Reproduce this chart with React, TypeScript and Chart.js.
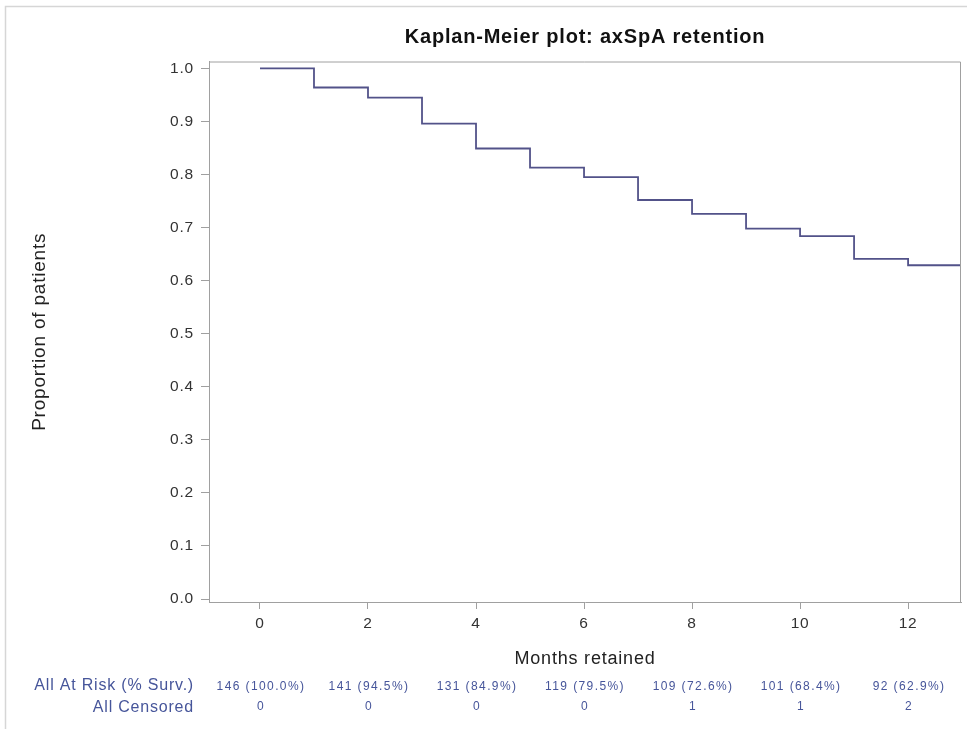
import React, { useEffect, useRef } from "react";
import { Chart, registerables } from "chart.js";

Chart.register(...registerables);

const TITLE = "Kaplan-Meier plot: axSpA retention";
const X_TITLE = "Months retained";
const Y_TITLE = "Proportion of patients";

// Kaplan-Meier step curve (value holds from each month onward)
const stepMonths = [0, 1, 2, 3, 4, 5, 6, 7, 8, 9, 10, 11, 12, 13];
const survival = [1.0, 0.964, 0.945, 0.896, 0.849, 0.813, 0.795, 0.752, 0.726, 0.698, 0.684, 0.641, 0.629, 0.629];

const xTickValues = [0, 2, 4, 6, 8, 10, 12];
const yTickValues = [0, 0.1, 0.2, 0.3, 0.4, 0.5, 0.6, 0.7, 0.8, 0.9, 1.0];

// Risk table
const riskRowLabels = ["All At Risk (% Surv.)", "All Censored"];
const riskMonths = [0, 2, 4, 6, 8, 10, 12];
const atRisk = [146, 141, 131, 119, 109, 101, 92];
const survPct = ["100.0", "94.5", "84.9", "79.5", "72.6", "68.4", "62.9"];
const censored = [0, 0, 0, 0, 1, 1, 2];

const FONT = '"Liberation Sans", Arial, sans-serif';
const LINE_COLOR = "#525289";
const RISK_COLOR = "#46559a";
const AXIS_COLOR = "#a0a0a0";

export default function App() {
  const ref = useRef<HTMLCanvasElement>(null);

  useEffect(() => {
    const canvas = ref.current;
    if (!canvas) return;

    const spacingPlugin = {
      id: "spacing",
      beforeLayout(c: any) {
        c.ctx.letterSpacing = "0.8px";
      },
      beforeDraw(c: any) {
        c.ctx.letterSpacing = "0.8px";
      },
    };

    const decorPlugin = {
      id: "decor",
      afterDraw(c: any) {
        const ctx = c.ctx as CanvasRenderingContext2D;
        const area = c.chartArea;
        const xs = c.scales.x;
        const ys = c.scales.y;
        ctx.save();
        // outer border
        ctx.strokeStyle = "#d6d6d6";
        ctx.lineWidth = 1.5;
        ctx.beginPath();
        ctx.moveTo(5.5, c.height);
        ctx.lineTo(5.5, 6.5);
        ctx.lineTo(c.width, 6.5);
        ctx.stroke();
        // plot frame (top & right)
        ctx.strokeStyle = AXIS_COLOR;
        ctx.lineWidth = 1;
        ctx.beginPath();
        ctx.moveTo(area.left, area.top + 0.5);
        ctx.lineTo(area.right - 0.5, area.top + 0.5);
        ctx.lineTo(area.right - 0.5, area.bottom);
        ctx.stroke();
        // risk table
        ctx.fillStyle = RISK_COLOR;
        ctx.textBaseline = "middle";
        (ctx as any).letterSpacing = "0.8px";
        ctx.font = `16px ${FONT}`;
        ctx.textAlign = "right";
        const labelX = ys.right - 15;
        ctx.fillText(riskRowLabels[0], labelX, 686);
        ctx.fillText(riskRowLabels[1], labelX, 708);
        ctx.font = `12px ${FONT}`;
        (ctx as any).letterSpacing = "1.4px";
        ctx.textAlign = "center";
        riskMonths.forEach((m, i) => {
          const x = xs.getPixelForValue(m) + 1;
          ctx.fillText(`${atRisk[i]} (${survPct[i]}%)`, x, 687);
          ctx.fillText(String(censored[i]), x, 707);
        });
        ctx.restore();
      },
    };

    const chart = new Chart(canvas, {
      type: "line",
      data: {
        datasets: [
          {
            label: "All",
            data: stepMonths.map((m, i) => ({ x: m, y: survival[i] })),
            stepped: true,
            borderColor: LINE_COLOR,
            borderWidth: 1.8,
            pointRadius: 0,
            fill: false,
          },
        ],
      },
      options: {
        responsive: false,
        animation: false,
        devicePixelRatio: 1,
        layout: { padding: { top: 0, left: 0, right: 6, bottom: 59 } },
        plugins: {
          legend: { display: false },
          tooltip: { enabled: false },
          title: {
            display: true,
            text: TITLE,
            fullSize: false,
            color: "#111",
            font: { family: FONT, size: 20, weight: "bold", lineHeight: 1.2 },
            padding: { top: 25, bottom: 12.5 },
          },
        },
        scales: {
          x: {
            type: "linear",
            min: -0.944,
            max: 12.98,
            afterBuildTicks: (s: any) => {
              s.ticks = xTickValues.map((v) => ({ value: v }));
            },
            afterFit: (s: any) => {
              s.height = 68;
            },
            ticks: {
              color: "#333",
              font: { family: FONT, size: 15.5 },
              padding: 5,
              maxRotation: 0,
              autoSkip: false,
              callback: (v: any) => String(v),
            },
            grid: { drawOnChartArea: false, drawTicks: true, tickLength: 7, color: AXIS_COLOR },
            border: { display: true, color: AXIS_COLOR },
            title: {
              display: true,
              text: X_TITLE,
              color: "#222",
              font: { family: FONT, size: 18, lineHeight: 1.2 },
              padding: { top: 0, bottom: 0 },
            },
          },
          y: {
            type: "linear",
            min: -0.0056,
            max: 1.013,
            afterBuildTicks: (s: any) => {
              s.ticks = yTickValues.map((v) => ({ value: v }));
            },
            afterFit: (s: any) => {
              s.width = 209;
            },
            ticks: {
              color: "#333",
              font: { family: FONT, size: 15.5 },
              padding: 7,
              autoSkip: false,
              callback: (v: any) => Number(v).toFixed(1),
            },
            grid: { drawOnChartArea: false, drawTicks: true, tickLength: 8, color: AXIS_COLOR },
            border: { display: true, color: AXIS_COLOR },
            title: {
              display: true,
              text: Y_TITLE,
              color: "#222",
              font: { family: FONT, size: 19, lineHeight: 1.2 },
              padding: { top: 28.6, bottom: 0 },
            },
          },
        },
      },
      plugins: [spacingPlugin, decorPlugin],
    });

    return () => chart.destroy();
  }, []);

  return (
    <div style={{ position: "fixed", left: 0, top: 0, width: 967, height: 729, background: "#fff" }}>
      <canvas ref={ref} width={967} height={729} style={{ display: "block", width: 967, height: 729 }} />
    </div>
  );
}
